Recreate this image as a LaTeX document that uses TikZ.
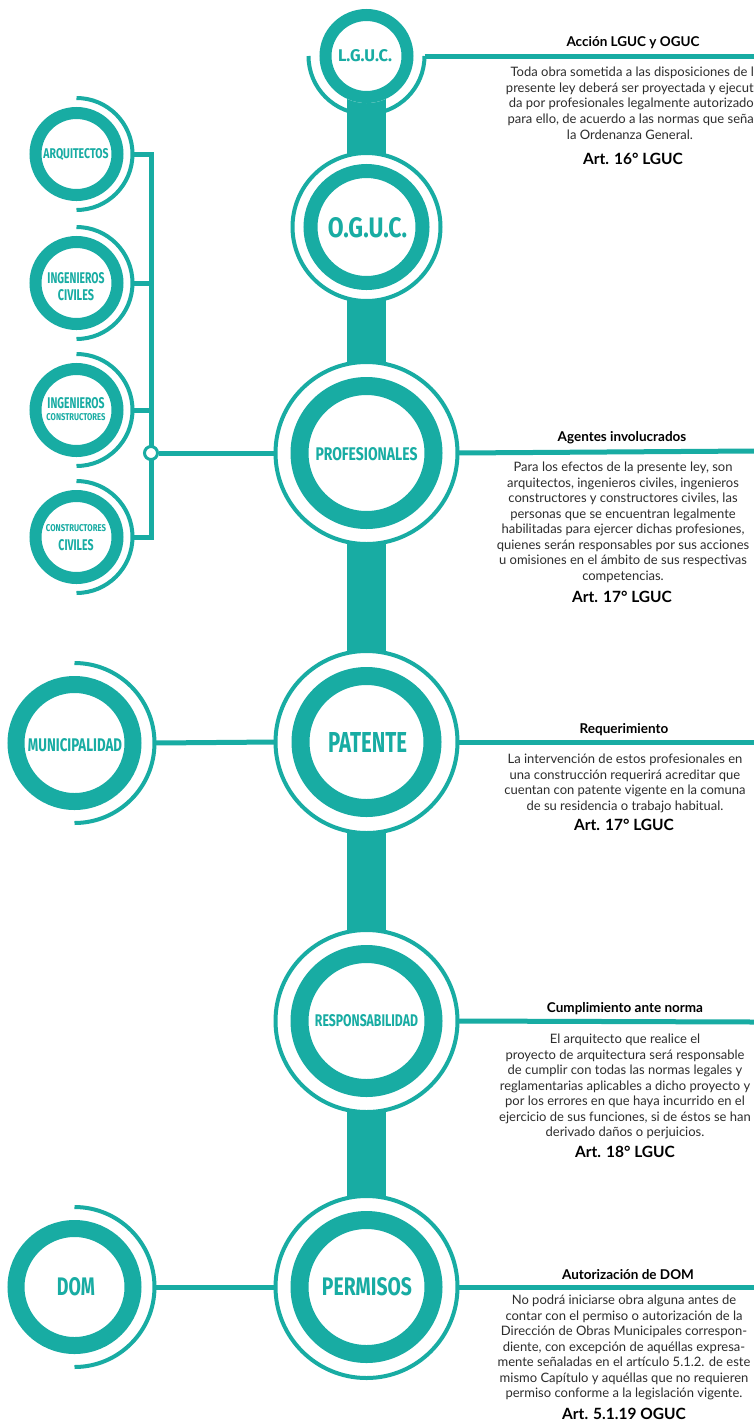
\documentclass[tikz,border=0pt]{standalone}
\usepackage{fontspec}
\usepackage{graphicx}
\setmainfont{Lato}
\newfontfamily\labelfont{Fira Sans}
\definecolor{tealc}{RGB}{24,172,163}
\definecolor{bodyc}{RGB}{45,45,45}
\newcommand{\circlbl}[3]{\resizebox{#1pt}{#2pt}{\labelfont\bfseries #3}}
\begin{document}
\begin{tikzpicture}[x=1pt,y=-1pt,
  bar/.style={draw=tealc, line width=39pt},
  conn/.style={draw=tealc, line width=5pt},
  thinarc/.style={draw=tealc, line width=4pt},
  bigc/.style={circle, minimum size=182pt, inner sep=0pt, outer sep=0pt, draw=tealc, line width=4pt, fill=white},
  bigring/.style={draw=tealc, line width=18pt},
  midring/.style={draw=tealc, line width=17pt},
  smallring/.style={draw=tealc, line width=12pt},
  anchorc/.style={circle, inner sep=0pt, outer sep=0pt},
  lbltxt/.style={inner sep=0pt, text=tealc},
  headt/.style={font=\fontsize{13.5}{16}\selectfont\bfseries, text=black, inner sep=0pt},
  bodyt/.style={font=\fontsize{13}{15.5}\selectfont, text=bodyc, align=center, inner sep=0pt, anchor=north},
  artt/.style={font=\fontsize{15.5}{18}\selectfont\bfseries, text=black, inner sep=0pt}
]
\useasboundingbox (0,0) rectangle (754,1422);
\fill[white] (0,0) rectangle (754,1422);

% centres of the main column
\coordinate (cLGUC) at (366.5,56);
\coordinate (cOGUC) at (366.5,227);
\coordinate (cPROF) at (366.5,453);
\coordinate (cPAT)  at (366.5,742);
\coordinate (cRESP) at (366.5,1021);
\coordinate (cPERM) at (366.5,1287);

% spine
\draw[bar] (cLGUC) -- (cPERM);

% L.G.U.C.
\fill[white] (cLGUC) circle (47);
\draw[smallring] (cLGUC) circle (41);
\node[anchorc, minimum size=116pt] (lguc) at (cLGUC) {};
\draw[thinarc] (lguc.west) arc[start angle=180, end angle=0, radius=58];
\node[lbltxt] (tLGUC) at (365,56) {\circlbl{54}{12}{L.G.U.C.}};

% O.G.U.C.
\node[bigc, minimum size=148pt] (oguc) at (cOGUC) {};
\draw[draw=tealc, line width=14pt] (cOGUC) circle (56);
\node[lbltxt] (tOGUC) at (367.5,228) {\circlbl{79}{20}{O.G.U.C.}};

% PROFESIONALES
\node[bigc] (prof) at (cPROF) {};
\draw[bigring] (cPROF) circle (67);
\node[lbltxt] (tPROF) at (366.5,454) {\circlbl{102}{13}{PROFESIONALES}};

% PATENTE
\node[bigc] (pat) at (cPAT) {};
\draw[bigring] (cPAT) circle (66);
\node[lbltxt] (tPAT) at (367.5,742) {\circlbl{79}{20}{PATENTE}};

% RESPONSABILIDAD
\node[bigc] (resp) at (cRESP) {};
\draw[bigring] (cRESP) circle (67);
\node[lbltxt] (tRESP) at (366.5,1021) {\circlbl{103}{12}{RESPONSABILIDAD}};

% PERMISOS
\node[bigc] (perm) at (cPERM) {};
\draw[bigring] (cPERM) circle (67);
\node[lbltxt] (tPERM) at (367,1287) {\circlbl{90}{18}{PERMISOS}};

% MUNICIPALIDAD
\node[anchorc, minimum size=160pt] (muni) at (74.5,743) {};
\draw[midring] (muni.center) circle (58.5);
\draw[thinarc] (muni.north) arc[start angle=-90, end angle=90, radius=80];
\node[lbltxt] (tMUNI) at (75,745) {\circlbl{94}{13}{MUNICIPALIDAD}};
\draw[conn] (muni.east) -- (pat.west);

% DOM
\node[anchorc, minimum size=160pt] (dom) at (74.5,1287) {};
\draw[midring] (dom.center) circle (58.5);
\draw[thinarc] (dom.north) arc[start angle=-90, end angle=90, radius=80];
\node[lbltxt] (tDOM) at (76,1287) {\circlbl{38}{18}{DOM}};
\draw[conn] (dom.east) -- (perm.west);

% left column
\node[anchorc, minimum size=112pt] (arq)  at (76.5,154) {};
\node[anchorc, minimum size=112pt] (ingc) at (76.5,283) {};
\node[anchorc, minimum size=112pt] (ingk) at (76.5,410) {};
\node[anchorc, minimum size=112pt] (cciv) at (76.5,537) {};
\foreach \n in {arq,ingc,ingk,cciv}{
  \draw[smallring] (\n.center) circle (41);
  \draw[thinarc] (\n.north) arc[start angle=-90, end angle=90, radius=56];
}
\node[lbltxt] (tARQ) at (76,155) {\circlbl{65}{10}{ARQUITECTOS}};
\node[lbltxt, align=center, font=\fontsize{1}{17}\selectfont] (tINGC) at (76,286.5)
  {\circlbl{57}{11}{INGENIEROS}\\\circlbl{36}{11}{CIVILES}};
\node[lbltxt, align=center, font=\fontsize{1}{12}\selectfont] (tINGK) at (76,409)
  {\circlbl{57}{11}{INGENIEROS}\\\circlbl{59}{7}{CONSTRUCTORES}};
\node[lbltxt, align=center, font=\fontsize{1}{19}\selectfont] (tCCIV) at (76,538)
  {\circlbl{60}{7}{CONSTRUCTORES}\\\circlbl{35}{11}{CIVILES}};

\coordinate (bTop) at (151,154);
\coordinate (bBot) at (151,537);
\draw[conn, line join=miter] (arq.east) -- (bTop) -- (bBot) -- (cciv.east);
\draw[conn] (ingc.east) -- (ingc.east -| bTop);
\draw[conn] (ingk.east) -- (ingk.east -| bTop);
\node[circle, draw=tealc, line width=3pt, fill=white, minimum size=13pt, inner sep=0pt] (jun) at (151,453) {};
\draw[conn] (jun) -- (prof.west);

% right-hand lines
\coordinate (eLGUC) at (754,56);
\coordinate (ePROF) at (754,451);
\coordinate (ePAT)  at (754,742);
\coordinate (eRESP) at (754,1022);
\coordinate (ePERM) at (754,1287);
\draw[conn] (lguc.east) -- (eLGUC);
\draw[conn] (prof.east) -- (ePROF);
\draw[conn] (pat.east) -- (ePAT);
\draw[conn] (resp.east) -- (eRESP);
\draw[conn] (perm.east) -- (ePERM);

% block 1
\node[headt] (h1) at (633,43) {Acción LGUC y OGUC};
\node[bodyt, anchor=north east, align=right] (b1) at (754,67) {Toda obra sometida a las disposiciones de l\\presente ley deberá ser proyectada y ejecut\\da por profesionales legalmente autorizado\\para ello, de acuerdo a las normas que seña};
\node[bodyt] (b1b) at (630,130) {la Ordenanza General.};
\node[artt] (a1) at (633,159) {Art. 16° LGUC};

% block 2
\node[headt] (h2) at (622,438) {Agentes involucrados};
\node[bodyt] (b2) at (623,462) {Para los efectos de la presente ley, son\\arquitectos, ingenieros civiles, ingenieros\\constructores y constructores civiles, las\\personas que se encuentran legalmente\\habilitadas para ejercer dichas profesiones,\\quienes serán responsables por sus acciones\\u omisiones en el ámbito de sus respectivas\\competencias.};
\node[artt] (a2) at (622,597) {Art. 17° LGUC};

% block 3
\node[headt] (h3) at (624,730) {Requerimiento};
\node[bodyt] (b3) at (625,754) {La intervención de estos profesionales en\\una construcción requerirá acreditar que\\cuentan con patente vigente en la comuna\\de su residencia o trabajo habitual.};
\node[artt] (a3) at (624,825) {Art. 17° LGUC};

% block 4
\node[headt] (h4) at (625,1009) {Cumplimiento ante norma};
\node[bodyt] (b4) at (625,1034) {El arquitecto que realice el\\proyecto de arquitectura será responsable\\de cumplir con todas las normas legales y\\reglamentarias aplicables a dicho proyecto y\\por los errores en que haya incurrido en el\\ejercicio de sus funciones, si de éstos se han\\derivado daños o perjuicios.};
\node[artt] (a4) at (625,1152) {Art. 18° LGUC};

% block 5
\node[headt] (h5) at (628,1275) {Autorización de DOM};
\node[bodyt] (b5) at (624,1295) {No podrá iniciarse obra alguna antes de\\contar con el permiso o autorización de la\\Dirección de Obras Municipales correspon-\\diente, con excepción de aquéllas expresa-\\mente señaladas en el artículo 5.1.2. de este\\mismo Capítulo y aquéllas que no requieren\\permiso conforme a la legislación vigente.};
\node[artt] (a5) at (624,1414) {Art. 5.1.19 OGUC};
\end{tikzpicture}
\end{document}
